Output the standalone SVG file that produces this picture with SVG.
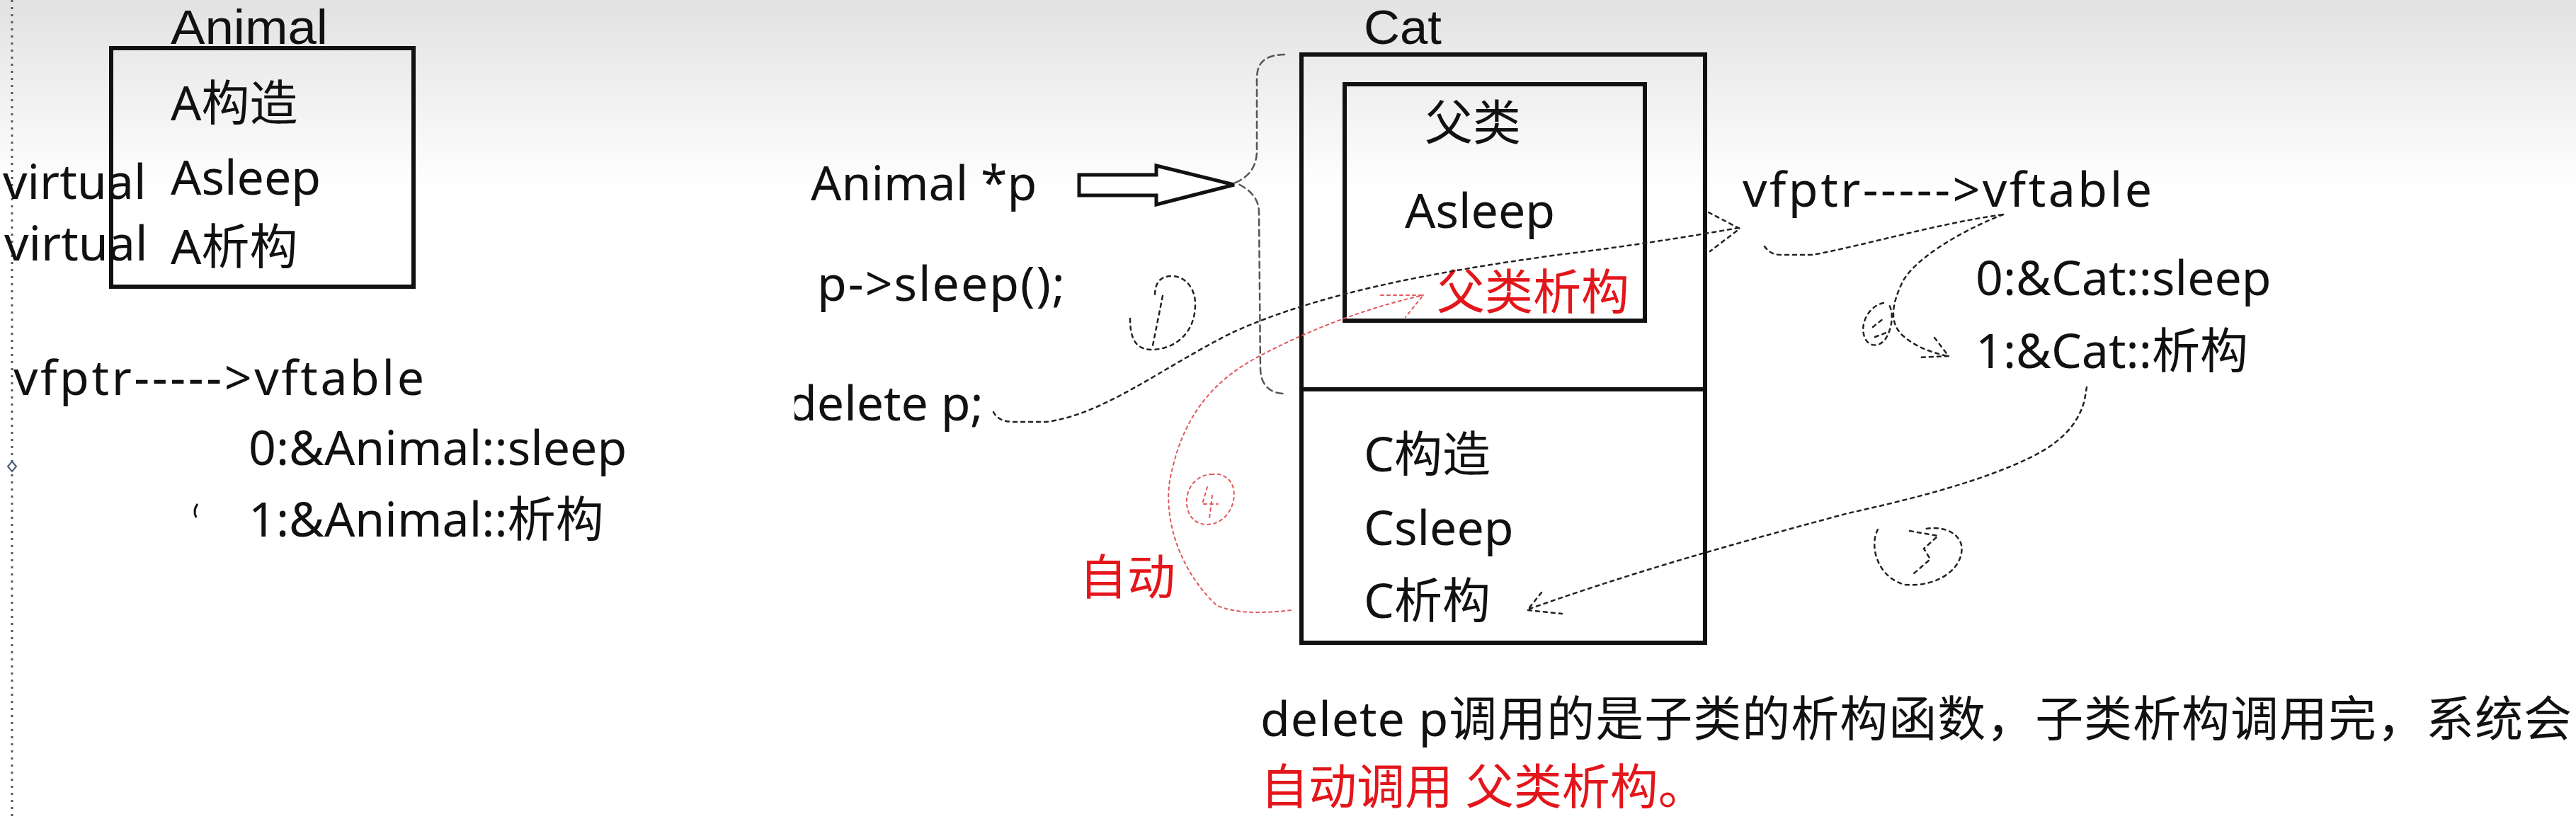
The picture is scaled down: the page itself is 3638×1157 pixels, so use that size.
<svg xmlns="http://www.w3.org/2000/svg" width="3638" height="1157" viewBox="0 0 3638 1157">
<defs>
<linearGradient id="bg" x1="0" y1="0" x2="0" y2="1">
<stop offset="0" stop-color="#e2e2e2"/>
<stop offset="1" stop-color="#ffffff"/>
</linearGradient>
<clipPath id="delclip"><rect x="1122" y="500" width="400" height="150"/></clipPath>
</defs>
<style>
text{font-family:"Noto Sans","Noto Sans CJK SC",sans-serif;font-size:68px;fill:#111}
text.top{font-family:"Liberation Sans","Noto Sans CJK SC",sans-serif}
.red{fill:#e3161b}
.box{fill:none;stroke:#111;stroke-width:6}
.hand{fill:none;stroke:#222;stroke-width:2.5;stroke-dasharray:5 6;stroke-linecap:round}
.handg{fill:none;stroke:#555;stroke-width:2.5;stroke-dasharray:9 6;stroke-linecap:round}
.handr{fill:none;stroke:#e0585c;stroke-width:2;stroke-dasharray:4 5;stroke-linecap:round}
</style>
<rect x="0" y="0" width="3638" height="270" fill="url(#bg)"/>
<rect x="0" y="270" width="3638" height="887" fill="#ffffff"/>
<line x1="17" y1="0" x2="17" y2="1157" stroke="#4a5a70" stroke-width="3" stroke-dasharray="3 7"/>
<path d="M17,652 L23,659 L17,666 L11,659 Z" fill="#fff" stroke="#4a5a70" stroke-width="2"/>

<g id="animal">
<text class="top" x="241" y="62" textLength="222" lengthAdjust="spacingAndGlyphs">Animal</text>
<rect class="box" x="157" y="68" width="427" height="337"/>
<text x="241" y="170">A构造</text>
<text x="241" y="275">Asleep</text>
<text x="241" y="373">A析构</text>
</g>
<g id="virtual-labels">
<text x="4" y="281">virtual</text>
<text x="6" y="368">virtual</text>
</g>
<g id="animal-vtable">
<text x="19" y="558" textLength="580" lengthAdjust="spacing">vfptr-----&gt;vftable</text>
<text x="351" y="657">0:&amp;Animal::sleep</text>
<text x="351" y="758">1:&amp;Animal::析构</text>
<path d="M279,712 Q272,721 277,731" fill="none" stroke="#111" stroke-width="3"/>
</g>

<g id="code">
<text x="1145" y="283">Animal *p</text>
<polygon points="1524,247 1633,247 1633,234 1743,261 1633,289 1633,276 1524,276" fill="#fff" stroke="#111" stroke-width="5" stroke-linejoin="miter"/>
<text x="1154" y="425" textLength="350" lengthAdjust="spacing">p-&gt;sleep();</text>
<text x="1112" y="594" clip-path="url(#delclip)">delete p;</text>
</g>

<g id="cat">
<text class="top" x="1926" y="62" textLength="110" lengthAdjust="spacingAndGlyphs">Cat</text>
<rect class="box" x="1838" y="77" width="570" height="831"/>
<line x1="1838" y1="550" x2="2408" y2="550" stroke="#111" stroke-width="6"/>
<g id="cat-parent">
<rect class="box" x="1899" y="119" width="424" height="334"/>
<text x="2012" y="198">父类</text>
<text x="1984" y="322">Asleep</text>
<text class="red" x="2029" y="437">父类析构</text>
</g>
<text x="1926" y="666">C构造</text>
<text x="1926" y="770">Csleep</text>
<text x="1926" y="873">C析构</text>
</g>

<g id="cat-vtable">
<text x="2461" y="292" textLength="578" lengthAdjust="spacing">vfptr-----&gt;vftable</text>
<text x="2790" y="417">0:&amp;Cat::sleep</text>
<text x="2790" y="520">1:&amp;Cat::析构</text>
</g>

<g id="auto-label">
<text class="red" x="1524" y="840">自动</text>
</g>

<g id="note">
<text x="1780" y="1040" textLength="1852" lengthAdjust="spacing">delete p调用的是子类的析构函数，子类析构调用完，系统会</text>
<text class="red" x="1780" y="1136">自动调用 父类析构。</text>
</g>

<g id="connectors">
<path class="handg" d="M1814,77 C1782,78 1775,92 1775,112 L1775,212 C1775,238 1762,250 1745,258 C1762,266 1778,278 1778,300 L1780,520 C1780,545 1795,556 1814,556"/>
<path class="hand" d="M1403,582 Q1410,596 1432,596 L1478,596 C1560,585 1640,520 1740,470 C1860,415 2020,385 2200,360 C2300,348 2380,335 2455,322"/>
<path class="hand" d="M2413,300 L2457,323 L2415,355"/>
<path class="hand" d="M1596,450 C1596,480 1605,493 1625,494 C1660,494 1688,470 1688,430 C1688,405 1672,390 1655,390 C1638,390 1631,400 1631,418 M1642,418 L1627,493"/>
<path class="hand" d="M2492,348 Q2500,360 2515,360 L2560,360 C2640,345 2740,315 2829,303"/>
<path class="hand" d="M2829,303 C2760,330 2700,370 2686,400 C2672,430 2668,455 2686,473 C2705,490 2725,497 2750,503"/>
<path class="hand" d="M2732,477 L2752,503 L2708,505"/>
<path class="hand" d="M2660,428 C2640,432 2628,455 2632,472 C2636,490 2652,492 2662,480 C2672,466 2676,440 2666,428 M2645,462 L2660,450 M2648,476 L2664,470"/>
<path class="hand" d="M2947,547 L2944,565 C2935,600 2910,625 2870,645 C2800,680 2700,705 2610,725 C2480,760 2330,800 2160,860"/>
<path class="hand" d="M2177,837 L2157,862 L2206,867"/>
<path class="hand" d="M2652,748 C2640,770 2650,815 2690,826 C2740,830 2775,800 2770,770 C2765,750 2740,742 2715,748 M2697,750 L2737,757 L2717,775 L2726,790 L2703,810"/>
<path class="handr" d="M1823,862 C1790,866 1745,868 1718,855 C1660,800 1640,720 1655,665 C1672,590 1710,540 1775,505 C1850,465 1930,435 2010,417"/>
<path class="handr" d="M1950,417 L2010,417 L1985,448"/>
<path class="handr" d="M1712,670 C1690,670 1674,690 1676,712 C1678,735 1695,744 1712,740 C1735,735 1746,710 1742,690 C1738,675 1725,668 1712,670 M1705,688 L1698,712 L1720,712 M1712,700 L1708,732"/>
</g>
</svg>
